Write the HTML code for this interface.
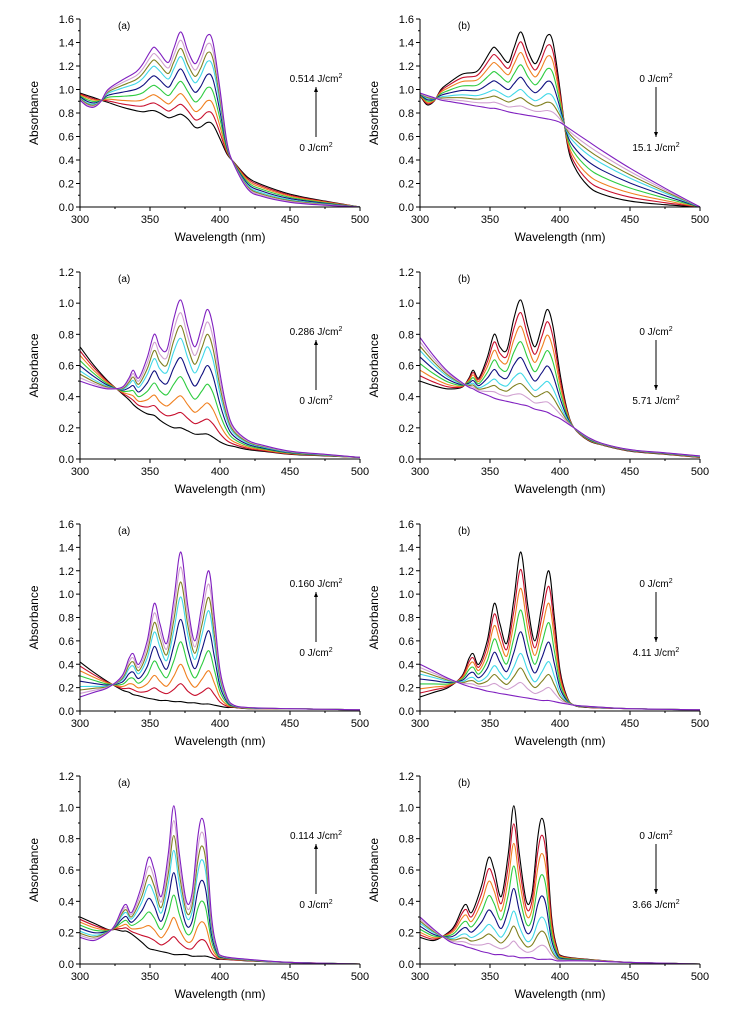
<!DOCTYPE html>
<html><head><meta charset="utf-8">
<style>
html,body{margin:0;padding:0;background:#fff;}
svg{display:block;font-family:"Liberation Sans",Arial,sans-serif;}
</style></head>
<body>
<svg id="fig" width="756" height="1023" viewBox="0 0 756 1023"></svg>
<script>
// ---- data ----
const grid1 = [300,305,310,315,320,330,340,345,350,353,357,363,367,372,377,382,386,391,395,400,405,410,420,430,450,475,500];
const p1aStart = [0.97,0.95,0.93,0.91,0.89,0.85,0.82,0.81,0.82,0.82,0.80,0.76,0.77,0.79,0.75,0.68,0.68,0.72,0.70,0.58,0.45,0.38,0.25,0.19,0.11,0.05,0];
const p1aEnd = [0.91,0.86,0.85,0.90,1.00,1.08,1.15,1.22,1.32,1.36,1.31,1.23,1.35,1.49,1.33,1.22,1.30,1.46,1.40,1.00,0.55,0.36,0.15,0.09,0.04,0.015,0];
const p1bStart = [0.95,0.87,0.90,1.00,1.05,1.13,1.15,1.22,1.32,1.36,1.31,1.23,1.35,1.49,1.33,1.22,1.30,1.46,1.40,1.00,0.55,0.35,0.18,0.11,0.05,0.02,0];
const p1bEnd = [0.97,0.95,0.93,0.91,0.90,0.88,0.86,0.85,0.84,0.84,0.83,0.81,0.80,0.79,0.78,0.77,0.76,0.75,0.74,0.72,0.68,0.64,0.56,0.48,0.33,0.16,0];

const grid2 = [300,310,320,330,335,338,342,348,353,357,362,367,372,377,382,387,391,395,400,405,410,420,430,450,475,500];
const p2aStart = [0.72,0.60,0.50,0.42,0.38,0.35,0.32,0.29,0.28,0.25,0.22,0.20,0.20,0.18,0.16,0.16,0.16,0.14,0.11,0.09,0.08,0.06,0.05,0.03,0.02,0.01];
const p2aEnd = [0.50,0.47,0.45,0.46,0.52,0.57,0.52,0.65,0.80,0.72,0.70,0.90,1.02,0.85,0.72,0.85,0.96,0.85,0.55,0.32,0.20,0.12,0.09,0.05,0.03,0.01];
const p2bEnd = [0.78,0.66,0.56,0.49,0.46,0.45,0.43,0.41,0.39,0.38,0.37,0.36,0.35,0.34,0.32,0.31,0.30,0.28,0.26,0.23,0.20,0.14,0.10,0.06,0.04,0.02];

const grid3 = [300,310,320,330,335,338,342,348,353,357,362,367,372,377,382,387,392,396,400,405,410,420,450,500];
const p3aStart = [0.42,0.33,0.25,0.18,0.16,0.14,0.13,0.11,0.10,0.09,0.09,0.08,0.08,0.07,0.07,0.06,0.06,0.05,0.04,0.03,0.03,0.02,0.02,0.01];
const p3aEnd = [0.12,0.16,0.20,0.30,0.45,0.49,0.40,0.60,0.92,0.75,0.58,0.95,1.36,0.90,0.60,0.90,1.20,0.80,0.35,0.12,0.05,0.03,0.02,0.01];
const p3bEnd = [0.40,0.34,0.28,0.23,0.21,0.20,0.19,0.17,0.16,0.15,0.14,0.13,0.12,0.11,0.10,0.09,0.09,0.08,0.07,0.06,0.05,0.04,0.02,0.01];

const grid4 = [300,310,320,325,330,333,337,344,349,353,358,363,367,371,376,380,384,387,390,394,398,402,420,450,500];
const p4aStart = [0.30,0.26,0.22,0.22,0.21,0.21,0.19,0.14,0.10,0.09,0.08,0.07,0.06,0.06,0.06,0.05,0.05,0.05,0.05,0.04,0.03,0.03,0.02,0.01,0];
const p4aEnd = [0.17,0.15,0.20,0.25,0.35,0.38,0.33,0.50,0.68,0.60,0.43,0.70,1.01,0.70,0.40,0.45,0.80,0.93,0.80,0.30,0.10,0.05,0.03,0.01,0];
const p4bEnd = [0.30,0.22,0.15,0.13,0.12,0.11,0.10,0.08,0.07,0.06,0.06,0.05,0.05,0.04,0.04,0.04,0.03,0.03,0.03,0.03,0.02,0.02,0.02,0.01,0];

const doseFractions = [0,0.12,0.25,0.4,0.55,0.7,0.8,0.9,1];
const colors = ["#000000","#c8102e","#f08020","#2ecc40","#101080","#40d8e8","#808020","#d0a0d0","#8020c0"];
const xTicks = [300,350,400,450,500];
const yTicks16 = ["0.0","0.2","0.4","0.6","0.8","1.0","1.2","1.4","1.6"];
const yTicks12 = ["0.0","0.2","0.4","0.6","0.8","1.0","1.2"];

const panels = [
 {id:"1a",x0:80,top:19,bot:207,ymax:1.6,ticks:yTicks16,grid:grid1,start:p1aStart,end:p1aEnd,label:"(a)",up:true,hi:"0.514",lo:"0"},
 {id:"1b",x0:420,top:19,bot:207,ymax:1.6,ticks:yTicks16,grid:grid1,start:p1bStart,end:p1bEnd,label:"(b)",up:false,hi:"0",lo:"15.1"},
 {id:"2a",x0:80,top:272,bot:459,ymax:1.2,ticks:yTicks12,grid:grid2,start:p2aStart,end:p2aEnd,label:"(a)",up:true,hi:"0.286",lo:"0"},
 {id:"2b",x0:420,top:272,bot:459,ymax:1.2,ticks:yTicks12,grid:grid2,start:p2aEnd,end:p2bEnd,label:"(b)",up:false,hi:"0",lo:"5.71"},
 {id:"3a",x0:80,top:524,bot:711,ymax:1.6,ticks:yTicks16,grid:grid3,start:p3aStart,end:p3aEnd,label:"(a)",up:true,hi:"0.160",lo:"0"},
 {id:"3b",x0:420,top:524,bot:711,ymax:1.6,ticks:yTicks16,grid:grid3,start:p3aEnd,end:p3bEnd,label:"(b)",up:false,hi:"0",lo:"4.11"},
 {id:"4a",x0:80,top:776,bot:964,ymax:1.2,ticks:yTicks12,grid:grid4,start:p4aStart,end:p4aEnd,label:"(a)",up:true,hi:"0.114",lo:"0"},
 {id:"4b",x0:420,top:776,bot:964,ymax:1.2,ticks:yTicks12,grid:grid4,start:p4aEnd,end:p4bEnd,label:"(b)",up:false,hi:"0",lo:"3.66"}
];

const NS="http://www.w3.org/2000/svg";
const svg=document.getElementById("fig");
function mk(tag,attrs,parent,text){
  const e=document.createElementNS(NS,tag);
  for(const k in attrs)e.setAttribute(k,attrs[k]);
  if(text!==undefined)e.textContent=text;
  (parent||svg).appendChild(e);return e;
}
function smooth(pts){
  let d="M"+pts[0][0].toFixed(1)+","+pts[0][1].toFixed(1);
  for(let i=0;i<pts.length-1;i++){
    const p0=pts[i-1]||pts[i],p1=pts[i],p2=pts[i+1],p3=pts[i+2]||p2;
    const c1=[p1[0]+(p2[0]-p0[0])/6,p1[1]+(p2[1]-p0[1])/6];
    const c2=[p2[0]-(p3[0]-p1[0])/6,p2[1]-(p3[1]-p1[1])/6];
    d+="C"+c1[0].toFixed(1)+","+c1[1].toFixed(1)+" "+c2[0].toFixed(1)+","+c2[1].toFixed(1)+" "+p2[0].toFixed(1)+","+p2[1].toFixed(1);
  }
  return d;
}
panels.forEach(p=>{
  const W=280;
  const g=mk("g",{});
  
  
  const sx=v=>p.x0+(v-300)/200*W;
  const sy=v=>p.bot-v/p.ymax*(p.bot-p.top);
  const cg=mk("g",{fill:"none","stroke-width":"1.1"},g);
  
  
  doseFractions.forEach((f,i)=>{
    const pts=p.grid.map((w,j)=>[sx(w),sy(p.start[j]+(p.end[j]-p.start[j])*f)]);
    const path=mk("path",{d:smooth(pts),stroke:colors[i]},cg);
    
    
  });
  const ax=mk("path",{d:`M${p.x0},${p.top}V${p.bot}H${p.x0+W}`,stroke:"#000","stroke-width":"1",fill:"none"},g);
  
  
  p.ticks.forEach((t,i)=>{
    const y=sy(+t);
    mk("line",{x1:p.x0-4,x2:p.x0,y1:y,y2:y,stroke:"#000"},g);
    if(i<p.ticks.length-1){const ym=sy(+t+0.1);mk("line",{x1:p.x0-2,x2:p.x0,y1:ym,y2:ym,stroke:"#000"},g);}
    const tl=mk("text",{x:p.x0-6,y:y+4,"text-anchor":"end","font-size":"11"},g,t);
    
    
  });
  xTicks.forEach((t,i)=>{
    const x=sx(t);
    mk("line",{x1:x,x2:x,y1:p.bot,y2:p.bot+4,stroke:"#000"},g);
    if(i<xTicks.length-1){const xm=sx(t+25);mk("line",{x1:xm,x2:xm,y1:p.bot,y2:p.bot+2,stroke:"#000"},g);}
    const tl=mk("text",{x:x,y:p.bot+16,"text-anchor":"middle","font-size":"11"},g,t);
    
    
  });
  const yt=mk("text",{x:0,y:0,transform:`translate(${p.x0-42},${(p.top+p.bot)/2}) rotate(-90)`,"text-anchor":"middle","font-size":"12"},g,"Absorbance");
  
  
  const xt=mk("text",{x:p.x0+W/2,y:p.bot+34,"text-anchor":"middle","font-size":"12"},g,"Wavelength (nm)");
  
  
  const lb=mk("text",{x:p.x0+38,y:p.top+10,"font-size":"10"},g,p.label);
  
  
  const ax2=p.x0+236;
  const t1=mk("text",{x:ax2,y:p.top+63,"text-anchor":"middle","font-size":"10"},g);
  
  
  t1.appendChild(document.createTextNode(p.hi+" J/cm"));
  mk("tspan",{dy:"-4","font-size":"7"},t1,"2");
  const t2=mk("text",{x:ax2,y:p.top+132,"text-anchor":"middle","font-size":"10"},g);
  
  
  t2.appendChild(document.createTextNode(p.lo+" J/cm"));
  mk("tspan",{dy:"-4","font-size":"7"},t2,"2");
  const ya=p.top+68,yb=p.top+118;
  const ar=mk("line",{x1:ax2,x2:ax2,y1:ya,y2:yb,stroke:"#000","stroke-width":"1"},g);
  
  
  const tip=p.up?ya:yb, dir=p.up?1:-1;
  mk("path",{d:`M${ax2-2},${tip+5*dir}L${ax2},${tip}L${ax2+2},${tip+5*dir}Z`,fill:"#000"},g);
});
</script>
</body></html>
